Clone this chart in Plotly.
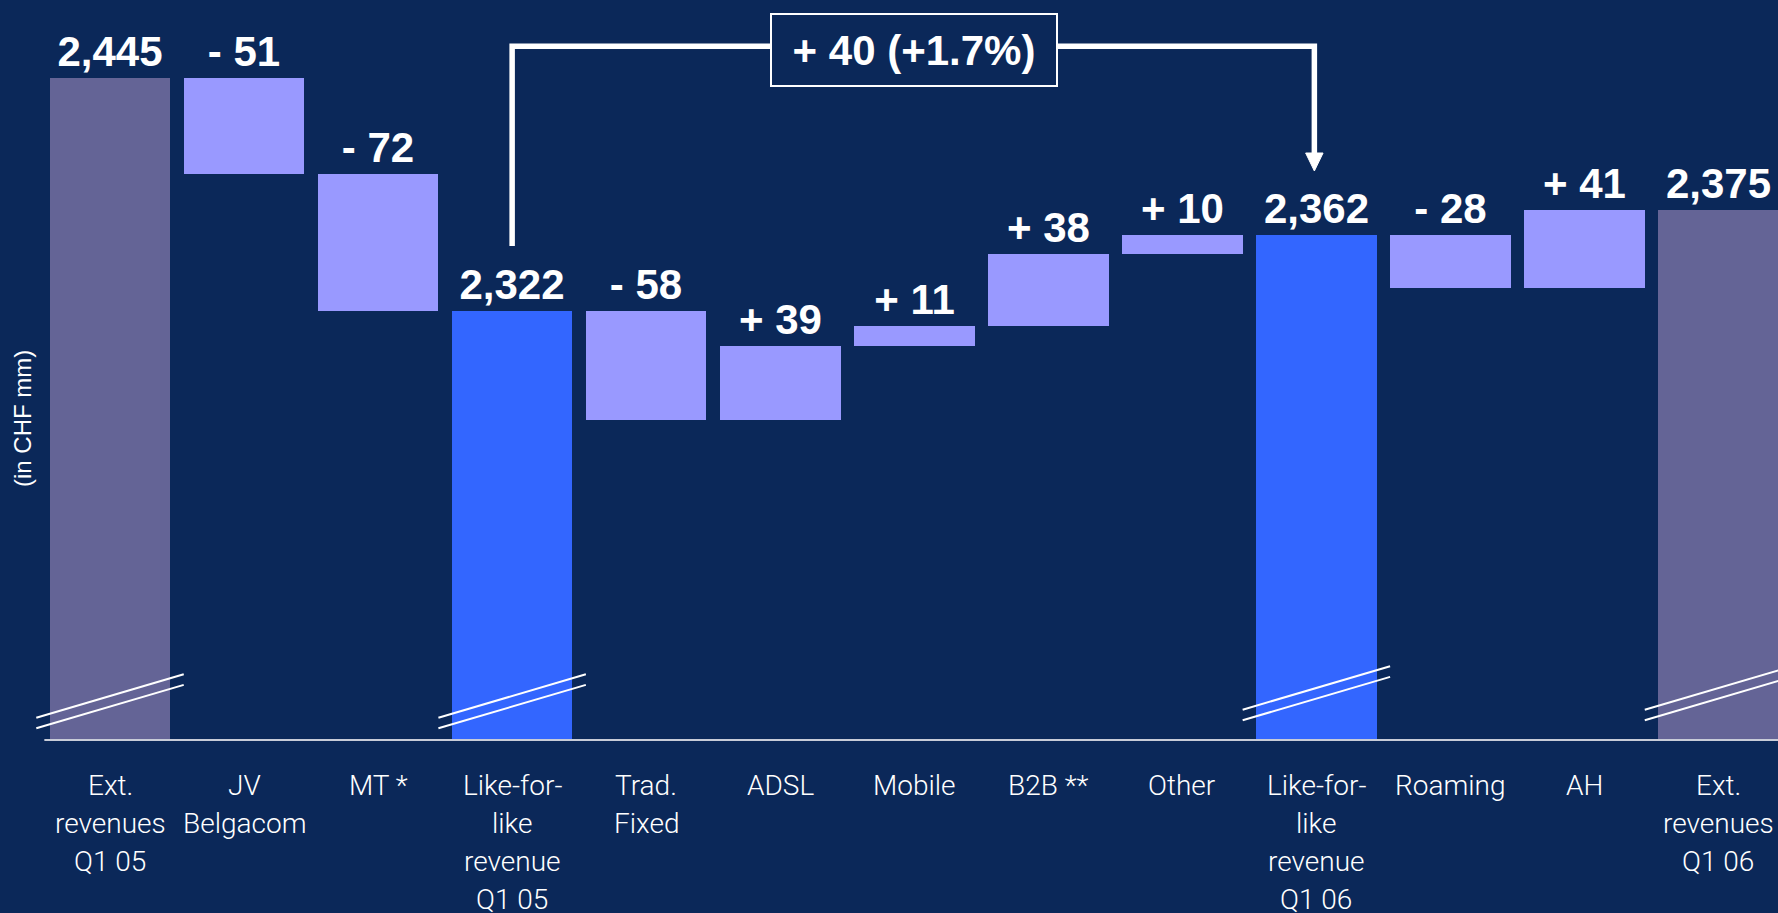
import plotly.graph_objects as go

# ---------------- data ----------------
categories = ["Ext.<br>revenues<br>Q1 05", "JV<br>Belgacom", "MT *", "Like-for-<br>like<br>revenue<br>Q1 05",
              "Trad.<br>Fixed", "ADSL", "Mobile", "B2B **", "Other",
              "Like-for-<br>like<br>revenue<br>Q1 06", "Roaming", "AH", "Ext.<br>revenues<br>Q1 06"]
values = [2445, -51, -72, 2322, -58, 39, 11, 38, 10, 2362, -28, 41, 2375]
measure = ["reported", "delta", "delta", "like", "delta", "delta", "delta", "delta", "delta",
           "like", "delta", "delta", "reported"]
bridge_text = "+ 40 (+1.7%)"
y_axis_title = "(in CHF mm)"

# ---------------- styles ----------------
BG = "#0B2859"
COLORS = {"reported": "#646496", "like": "#3366FF", "delta": "#9999FF"}
Y_MIN = 2095
PX_PER_UNIT = 1.892
PLOT_H = 740
Y_MAX = Y_MIN + PLOT_H / PX_PER_UNIT
X_RANGE = [-0.5, 12.444]
PLOT_L = 43
PLOT_W = 1778 - PLOT_L

# compute waterfall geometry from data
bases, heights, labels = [], [], []
running = 0
for v, m in zip(values, measure):
    if m == "delta":
        lo = running + min(v, 0)
        bases.append(lo)
        heights.append(abs(v))
        labels.append(("+ " if v > 0 else "- ") + str(abs(v)))
        running += v
    else:
        running = v
        bases.append(0)
        heights.append(v)
        labels.append(f"{v:,}")

x = list(range(len(categories)))

fig = go.Figure()
fig.add_trace(go.Bar(
    x=x, y=heights, base=bases, width=0.9,
    marker=dict(color=[COLORS[m] for m in measure], line=dict(width=0)),
    text=labels, textposition="outside", constraintext="none", cliponaxis=False,
    textfont=dict(family="Liberation Sans, Arial", size=42, color="white", weight="bold"),
    hoverinfo="skip",
))


def ypaper(px):
    return (PLOT_H - px) / PLOT_H


def xpaper(xv):
    return (xv - X_RANGE[0]) / (X_RANGE[1] - X_RANGE[0])


shapes = []
# axis break marks on total bars
for i, m in enumerate(measure):
    if m == "delta":
        continue
    lift = 0 if i < 5 else 8
    for off in (0, 10.6):
        shapes.append(dict(type="line", xref="paper", yref="paper",
                           x0=xpaper(i - 0.55), x1=xpaper(i + 0.55),
                           y0=ypaper(717.7 - lift + off), y1=ypaper(674.3 - lift + off),
                           line=dict(color="white", width=2)))

# bridge bracket between the two like-for-like totals
like_idx = [i for i, m in enumerate(measure) if m == "like"]
a, b = like_idx
bx = b - 0.015
shapes.append(dict(type="path", xref="x", yref="paper",
                   path=f"M {a},{ypaper(246)} L {a},{ypaper(46.3)} L {bx},{ypaper(46.3)} L {bx},{ypaper(158)}",
                   line=dict(color="white", width=5.5)))
shapes.append(dict(type="path", xref="x", yref="paper",
                   path=f"M {bx-0.065},{ypaper(153)} L {bx+0.065},{ypaper(153)} L {bx},{ypaper(171)} Z",
                   fillcolor="white", line=dict(color="white", width=1)))
# baseline
shapes.append(dict(type="line", xref="paper", yref="paper", x0=xpaper(-0.49), x1=1, y0=0, y1=0,
                   line=dict(color="#C8CCD8", width=2)))

annotations = [
    dict(x=(a + b) / 2, y=ypaper(49.5), xref="x", yref="paper", text=bridge_text,
         showarrow=False, bgcolor=BG, bordercolor="white", borderwidth=2, borderpad=2,
         width=280, height=66, align="center", valign="middle",
         xanchor="center", yanchor="middle",
         font=dict(family="Liberation Sans, Arial", size=42, color="white", weight="bold")),
    dict(x=(22 - PLOT_L) / PLOT_W, y=ypaper(419), xref="paper", yref="paper", text=y_axis_title,
         textangle=-90, showarrow=False, xanchor="center", yanchor="middle",
         font=dict(family="Liberation Sans, Arial", size=24, color="white")),
]

# category labels, one annotation per text line
LINE_1 = 785
LINE_STEP = 38.2
for i, cat in enumerate(categories):
    for k, line in enumerate(cat.split("<br>")):
        annotations.append(dict(
            x=i, y=ypaper(LINE_1 + k * LINE_STEP), xref="x", yref="paper", text=line,
            showarrow=False, xanchor="center", yanchor="middle",
            font=dict(family="Roboto", size=28, color="white", weight=300)))

fig.update_layout(
    width=1778, height=913,
    margin=dict(l=PLOT_L, r=0, t=0, b=913 - PLOT_H),
    paper_bgcolor=BG, plot_bgcolor=BG,
    showlegend=False, bargap=0,
    shapes=shapes, annotations=annotations,
    xaxis=dict(range=X_RANGE, tickvals=x, showticklabels=False, showgrid=False,
               zeroline=False, showline=False, ticks=""),
    yaxis=dict(range=[Y_MIN, Y_MAX], visible=False, showgrid=False, zeroline=False),
)

fig.write_html("out.html")
